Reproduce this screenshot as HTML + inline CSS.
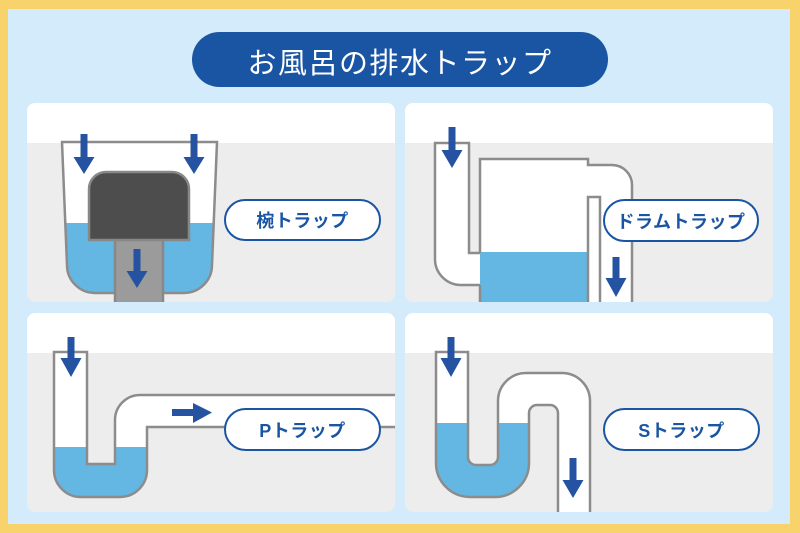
<!DOCTYPE html>
<html><head><meta charset="utf-8">
<style>
html,body{margin:0;padding:0;}
body{width:800px;height:533px;position:relative;overflow:hidden;background:#f8d36b;font-family:"Liberation Sans","Noto Sans CJK JP",sans-serif;}
svg{position:absolute;left:0;top:0;}
.pill{position:absolute;box-sizing:border-box;display:flex;align-items:center;justify-content:center;white-space:nowrap;}
.title{left:192px;top:32px;width:416px;height:55px;border-radius:28px;background:#1a55a3;color:#fff;font-size:29px;letter-spacing:1.5px;padding-top:3px;}
.lab{background:#fff;border:2px solid #1a55a3;border-radius:22px;color:#1a55a3;font-size:18px;font-weight:700;letter-spacing:0.5px;}
</style></head>
<body>
<svg width="800" height="533" viewBox="0 0 800 533" xmlns="http://www.w3.org/2000/svg">
<defs>
<clipPath id="c1"><rect x="27" y="103" width="368" height="199" rx="8"/></clipPath>
<clipPath id="c2"><rect x="405" y="103" width="368" height="199" rx="8"/></clipPath>
<clipPath id="c3"><rect x="27" y="313" width="368" height="199" rx="8"/></clipPath>
<clipPath id="c4"><rect x="405" y="313" width="368" height="199" rx="8"/></clipPath>
<clipPath id="bowl"><path d="M62,142 L217,142 L212,265 A28,28 0 0 1 184,293 L95,293 A28,28 0 0 1 67,265 Z"/></clipPath>
<clipPath id="ptrap"><path d="M54,352 L54,470 A27,27 0 0 0 81,497 L120,497 A27,27 0 0 0 147,470 L147,427 L400,427 L400,395 L140,395 A25,25 0 0 0 115,420 L115,464 L87,464 L87,352 Z"/></clipPath>
<clipPath id="strap"><path d="M436,352 L468,352 L468,457 A8,8 0 0 0 476,465 L490,465 A8,8 0 0 0 498,457 L498,401 A28,28 0 0 1 526,373 L562,373 A28,28 0 0 1 590,401 L590,515 L558,515 L558,413 A8,8 0 0 0 550,405 L537,405 A8,8 0 0 0 529,413 L529,463 A34,34 0 0 1 495,497 L470,497 A34,34 0 0 1 436,463 Z"/></clipPath>
</defs>
<rect x="8" y="9" width="782" height="515" fill="#d3ebfa"/>

<!-- Panel 1 -->
<g clip-path="url(#c1)">
<rect x="27" y="103" width="368" height="199" fill="#ededed"/>
<rect x="27" y="103" width="368" height="40" fill="#ffffff"/>
<path d="M62,142 L217,142 L212,265 A28,28 0 0 1 184,293 L95,293 A28,28 0 0 1 67,265 Z" fill="#ffffff"/>
<rect x="40" y="223" width="200" height="80" fill="#64b7e2" clip-path="url(#bowl)"/>
<path d="M62,142 L217,142 L212,265 A28,28 0 0 1 184,293 L95,293 A28,28 0 0 1 67,265 Z" fill="none" stroke="#8c8c8c" stroke-width="2.5"/>
<rect x="115" y="240" width="48" height="70" fill="#9b9b9b" stroke="#888" stroke-width="2.5"/>
<path d="M89,240 L89,189 A17,17 0 0 1 106,172 L172,172 A17,17 0 0 1 189,189 L189,240 Z" fill="#4d4d4d" stroke="#888" stroke-width="2.5"/>
<polygon points="80.5,134 87.5,134 87.5,157 94.5,157 84,174 73.5,157 80.5,157" fill="#2553a2"/>
<polygon points="190.5,134 197.5,134 197.5,157 204.5,157 194,174 183.5,157 190.5,157" fill="#2553a2"/>
<polygon points="133.5,249 140.5,249 140.5,271 147.5,271 137,288 126.5,271 133.5,271" fill="#2553a2"/>
</g>

<!-- Panel 2 -->
<g clip-path="url(#c2)">
<rect x="405" y="103" width="368" height="199" fill="#ededed"/>
<rect x="405" y="103" width="368" height="40" fill="#ffffff"/>
<path d="M435,143 L469,143 L469,253 L482,253 L482,285 L461,285 A26,26 0 0 1 435,259 Z" fill="#ffffff"/>
<path d="M480,310 L480,159 L588,159 L588,165 L612,165 A20,20 0 0 1 632,185 L632,310 Z" fill="#ffffff"/>
<rect x="480" y="252" width="108" height="60" fill="#64b7e2"/>
<path d="M480,285 L461,285 A26,26 0 0 1 435,259 L435,143 L469,143 L469,253 L480,253" fill="none" stroke="#8c8c8c" stroke-width="2.5"/>
<path d="M480,253 L480,159 L588,159 L588,165 L612,165 A20,20 0 0 1 632,185 L632,310" fill="none" stroke="#8c8c8c" stroke-width="2.5"/>
<path d="M480,285 L480,310" fill="none" stroke="#8c8c8c" stroke-width="2.5"/>
<rect x="588" y="197" width="12" height="120" fill="#ffffff" stroke="#8c8c8c" stroke-width="2.5"/>
<polygon points="448.5,127 455.5,127 455.5,150 462.5,150 452,168 441.5,150 448.5,150" fill="#2553a2"/>
<polygon points="612.5,257 619.5,257 619.5,278 626.5,278 616,297 605.5,278 612.5,278" fill="#2553a2"/>
</g>

<!-- Panel 3 -->
<g clip-path="url(#c3)">
<rect x="27" y="313" width="368" height="199" fill="#ededed"/>
<rect x="27" y="313" width="368" height="40" fill="#ffffff"/>
<path d="M54,352 L54,470 A27,27 0 0 0 81,497 L120,497 A27,27 0 0 0 147,470 L147,427 L400,427 L400,395 L140,395 A25,25 0 0 0 115,420 L115,464 L87,464 L87,352 Z" fill="#ffffff"/>
<rect x="40" y="447" width="120" height="60" fill="#64b7e2" clip-path="url(#ptrap)"/>
<path d="M54,352 L54,470 A27,27 0 0 0 81,497 L120,497 A27,27 0 0 0 147,470 L147,427 L400,427 L400,395 L140,395 A25,25 0 0 0 115,420 L115,464 L87,464 L87,352 Z" fill="none" stroke="#8c8c8c" stroke-width="2.5"/>
<polygon points="67.5,337 74.5,337 74.5,358 81.5,358 71,377 60.5,358 67.5,358" fill="#2553a2"/>
<polygon points="172,409 193,409 193,403 212,412.5 193,423 193,416 172,416" fill="#2553a2"/>
</g>

<!-- Panel 4 -->
<g clip-path="url(#c4)">
<rect x="405" y="313" width="368" height="199" fill="#ededed"/>
<rect x="405" y="313" width="368" height="40" fill="#ffffff"/>
<path d="M436,352 L468,352 L468,457 A8,8 0 0 0 476,465 L490,465 A8,8 0 0 0 498,457 L498,401 A28,28 0 0 1 526,373 L562,373 A28,28 0 0 1 590,401 L590,515 L558,515 L558,413 A8,8 0 0 0 550,405 L537,405 A8,8 0 0 0 529,413 L529,463 A34,34 0 0 1 495,497 L470,497 A34,34 0 0 1 436,463 Z" fill="#ffffff"/>
<rect x="430" y="423" width="102" height="80" fill="#64b7e2" clip-path="url(#strap)"/>
<path d="M436,352 L468,352 L468,457 A8,8 0 0 0 476,465 L490,465 A8,8 0 0 0 498,457 L498,401 A28,28 0 0 1 526,373 L562,373 A28,28 0 0 1 590,401 L590,515 L558,515 L558,413 A8,8 0 0 0 550,405 L537,405 A8,8 0 0 0 529,413 L529,463 A34,34 0 0 1 495,497 L470,497 A34,34 0 0 1 436,463 Z" fill="none" stroke="#8c8c8c" stroke-width="2.5"/>
<polygon points="447.5,337 454.5,337 454.5,358 461.5,358 451,377 440.5,358 447.5,358" fill="#2553a2"/>
<polygon points="569.5,458 576.5,458 576.5,480 583.5,480 573,498 562.5,480 569.5,480" fill="#2553a2"/>
</g>
</svg>

<div class="pill title">お風呂の排水トラップ</div>
<div class="pill lab" style="left:224px;top:199px;width:157px;height:42px;">椀トラップ</div>
<div class="pill lab" style="left:603px;top:199px;width:156px;height:43px;">ドラムトラップ</div>
<div class="pill lab" style="left:224px;top:408px;width:157px;height:43px;">Pトラップ</div>
<div class="pill lab" style="left:603px;top:408px;width:157px;height:43px;">Sトラップ</div>
</body></html>
